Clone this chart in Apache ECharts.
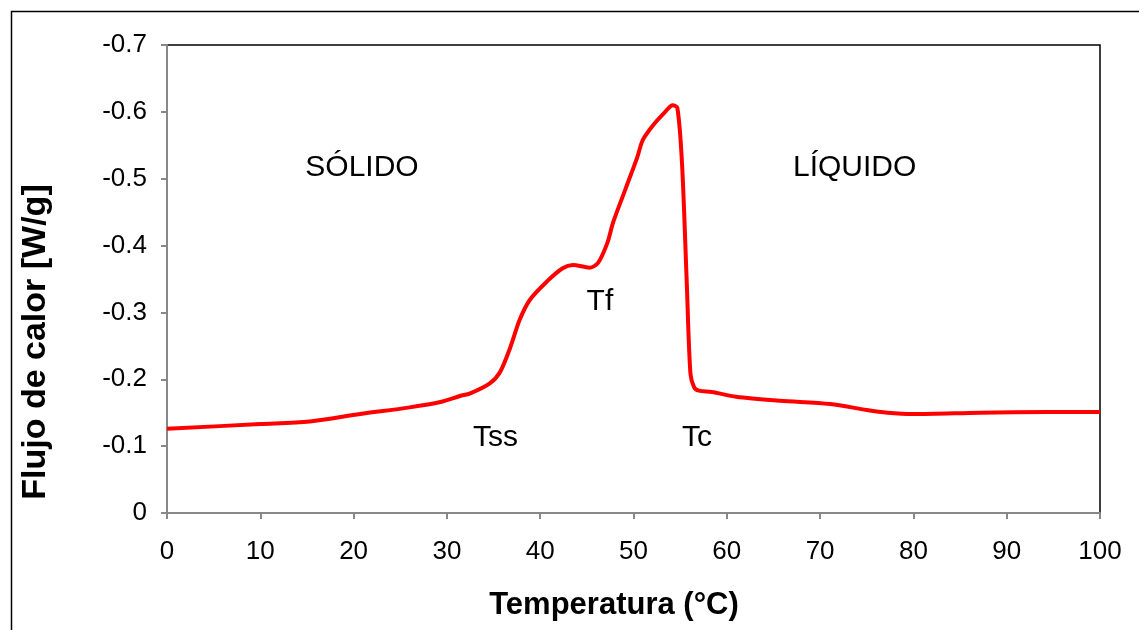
<!DOCTYPE html>
<html>
<head>
<meta charset="utf-8">
<script src="https://cdn.jsdelivr.net/npm/echarts@6/dist/echarts.min.js"></script>
<style>
html,body{margin:0;padding:0;background:#fff;}
#chart{width:1139px;height:630px;}
</style>
</head>
<body>
<div id="chart"></div>
<script>
const temperature = [0, 10, 15.3, 20.7, 26, 29.3, 31.4, 32.5, 34.6, 35.7, 36.8, 37.8, 38.9, 40.7, 42.4, 43.5, 45.3, 46.2, 47.2, 47.8, 49.1, 50.4, 51.0, 52.1, 53.4, 54.2, 54.7, 55.2, 55.7, 56.1, 56.5, 57.0, 58.4, 61.0, 65.7, 71.1, 75, 77.2, 80, 87.1, 94.3, 100];
const heatFlow    = [-0.126, -0.133, -0.137, -0.148, -0.158, -0.166, -0.175, -0.179, -0.194, -0.211, -0.248, -0.289, -0.319, -0.346, -0.366, -0.371, -0.367, -0.374, -0.404, -0.434, -0.483, -0.532, -0.558, -0.580, -0.600, -0.610, -0.606, -0.523, -0.348, -0.209, -0.188, -0.183, -0.181, -0.174, -0.168, -0.163, -0.154, -0.150, -0.148, -0.150, -0.151, -0.151];
const annotationText = ['SÓLIDO', 'LÍQUIDO', 'Tss', 'Tf', 'Tc'];
const annotationT    = [20.9, 73.7, 35.2, 46.4, 56.8];
const annotationQ    = [-0.517, -0.517, -0.112, -0.316, -0.112];
const xTitle = 'Temperatura (°C)';
const yTitle = 'Flujo de calor [W/g]';

const chart = echarts.init(document.getElementById('chart'));
const font = 'Liberation Sans, Arial, sans-serif';
chart.setOption({
  animation: false,
  backgroundColor: '#fff',
  grid: {left: 167, top: 45, right: 39, bottom: 117, show: true, borderColor: '#000', borderWidth: 1.5, backgroundColor: 'transparent'},
  graphic: [
    {type: 'rect', shape: {x: 11.5, y: 11.5, width: 1140, height: 640}, style: {fill: 'none', stroke: '#000', lineWidth: 1.5}, z: -1},
    {type: 'text', x: 36, y: 342, rotation: Math.PI / 2,
     style: {text: yTitle, font: 'bold 34px Liberation Sans, Arial, sans-serif', fill: '#000', align: 'center', verticalAlign: 'middle'}},
    {type: 'text', x: 614, y: 605,
     style: {text: xTitle, font: 'bold 31px Liberation Sans, Arial, sans-serif', fill: '#000', align: 'center', verticalAlign: 'middle'}}
  ],
  xAxis: {
    type: 'value', min: 0, max: 100, interval: 10,
    axisLine: {lineStyle: {color: '#888', width: 2}},
    axisTick: {show: true, length: 6, lineStyle: {color: '#888', width: 2}},
    axisLabel: {fontFamily: font, fontSize: 26, color: '#000', margin: 26},
    splitLine: {show: false}
  },
  yAxis: {
    type: 'value', min: -0.7, max: 0, interval: 0.1, inverse: true,
    axisLine: {show: true, lineStyle: {color: '#888', width: 2}},
    axisTick: {show: true, length: 6, lineStyle: {color: '#888', width: 2}},
    axisLabel: {fontFamily: font, fontSize: 26, color: '#000', margin: 20,
      formatter: v => Math.abs(v) < 1e-9 ? '0' : v.toFixed(1)},
    splitLine: {show: false}
  },
  series: [{
    type: 'line',
    data: temperature.map((t, i) => [t, heatFlow[i]]),
    showSymbol: false,
    smooth: 0.3,
    lineStyle: {color: '#ff0000', width: 4},
    z: 3
  }, {
    type: 'scatter',
    data: annotationT.map((t, i) => ({value: [t, annotationQ[i]], name: annotationText[i]})),
    symbolSize: 0,
    silent: true,
    itemStyle: {opacity: 1},
    label: {show: true, position: 'inside', formatter: p => p.name, fontFamily: font, fontSize: 30, color: '#000', opacity: 1},
    z: 4
  }]
});
</script>
</body>
</html>
